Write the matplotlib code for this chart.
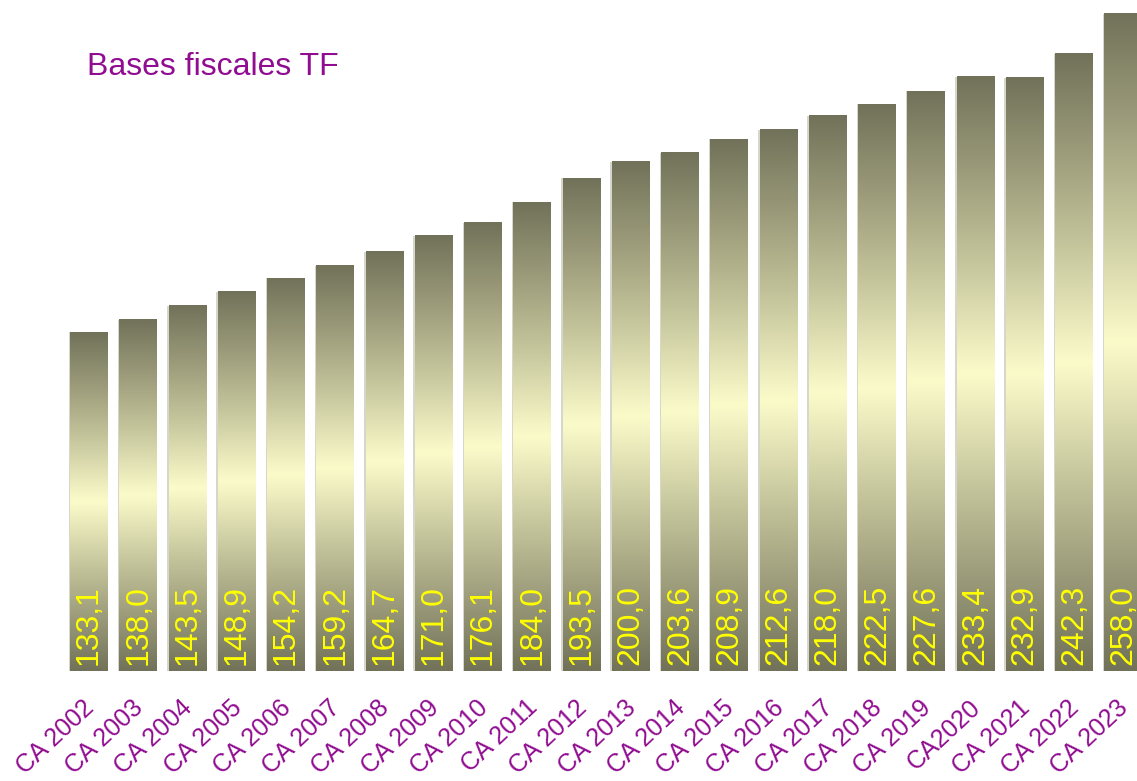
import matplotlib.pyplot as plt
import numpy as np
from matplotlib.colors import LinearSegmentedColormap

years = ["CA 2002", "CA 2003", "CA 2004", "CA 2005", "CA 2006", "CA 2007", "CA 2008",
         "CA 2009", "CA 2010", "CA 2011", "CA 2012", "CA 2013", "CA 2014", "CA 2015",
         "CA 2016", "CA 2017", "CA 2018", "CA 2019", "CA2020", "CA 2021", "CA 2022", "CA 2023"]
values = [133.1, 138.0, 143.5, 148.9, 154.2, 159.2, 164.7, 171.0, 176.1, 184.0, 193.5,
          200.0, 203.6, 208.9, 212.6, 218.0, 222.5, 227.6, 233.4, 232.9, 242.3, 258.0]
labels = [f"{v:.1f}".replace(".", ",") for v in values]

purple = "#900c90"
cmap = LinearSegmentedColormap.from_list("bar", ["#72725a", "#b4b48e", "#fbfbca", "#b4b48e", "#72725a"])
grad = np.linspace(0, 1, 256).reshape(-1, 1)

fig = plt.figure(figsize=(11.37, 7.81), dpi=100)
ax = fig.add_axes([0, 0.1408, 1, 0.8592])
ax.set_xlim(-1.807, 21.28)
ax.set_ylim(0, 263.5)
ax.axis("off")

x = np.arange(len(values))
w = 0.77
for i, v in enumerate(values):
    # thin light shadow on the left side of each bar
    ax.bar(x[i] - 0.03, v, width=w, color="#d6d6cc", zorder=1)
    ax.imshow(grad, cmap=cmap, extent=[x[i] - w / 2, x[i] + w / 2, 0, v],
              aspect="auto", origin="lower", zorder=2, interpolation="bilinear")
    ax.text(x[i], 2.3, labels[i], rotation=90, ha="center", va="bottom",
            color="#ffff00", fontsize=23, family="Liberation Sans", zorder=3)
    ax.text(x[i] + 0.03, -13, years[i], rotation=43, rotation_mode="anchor",
            ha="right", va="center", color=purple, fontsize=18,
            family="Liberation Sans", clip_on=False)

ax.set_xlim(-1.807, 21.28)
ax.set_ylim(0, 263.5)

fig.text(87 / 1137, 1 - 67 / 781, "Bases fiscales TF", color=purple, fontsize=23,
         family="Liberation Sans", va="center", ha="left")

plt.savefig("out.png", dpi=100)
